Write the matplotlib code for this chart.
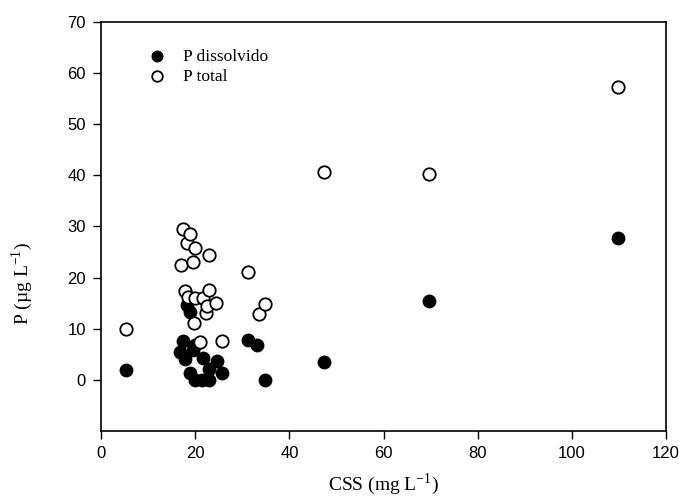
import matplotlib
matplotlib.use("Agg")
import matplotlib.pyplot as plt

# CSS (mg/L) vs dissolved phosphorus (ug/L)
css_dissolvido = [5.2, 17.35, 16.8, 17.8, 18.2, 18.9, 18.8, 19.6, 20.0, 19.9,
                  21.4, 21.6, 22.8, 23.0, 24.6, 25.7, 31.1, 33.2, 34.8, 47.4,
                  69.7, 109.8]
p_dissolvido = [1.9, 7.6, 5.5, 4.0, 14.7, 13.2, 1.4, 5.9, 6.8, 0.0,
                0.0, 4.2, 2.2, 0.0, 3.7, 1.3, 7.8, 6.8, 0.0, 3.4,
                15.4, 27.7]

# CSS (mg/L) vs total phosphorus (ug/L)
css_total = [5.2, 16.9, 17.35, 17.8, 18.3, 18.4, 18.9, 19.6, 19.8, 19.9,
             20.0, 21.0, 21.6, 22.3, 22.5, 22.8, 22.9, 24.4, 25.7, 31.1,
             33.5, 34.8, 47.4, 69.7, 109.8]
p_total = [10.0, 22.5, 29.4, 17.4, 26.7, 16.1, 28.5, 23.0, 11.1, 25.7,
           15.9, 7.4, 15.9, 13.1, 14.5, 17.5, 24.5, 15.1, 7.6, 21.1,
           12.9, 14.8, 40.7, 40.3, 57.3]

x_ticks = [0, 20, 40, 60, 80, 100, 120]
y_ticks = [0, 10, 20, 30, 40, 50, 60, 70]

fig = plt.figure(figsize=(6.79, 4.97), dpi=100)
ax = fig.add_axes([0.149, 0.133, 0.832, 0.823])

ax.scatter(css_dissolvido, p_dissolvido, s=80, color="black",
           edgecolors="black", linewidths=1.0, label="P dissolvido", zorder=3)
ax.scatter(css_total, p_total, s=80, facecolors="white",
           edgecolors="black", linewidths=1.3, label="P total", zorder=4)

ax.set_xlim(0, 120)
ax.set_ylim(-10, 70)
ax.set_xticks(x_ticks)
ax.set_yticks(y_ticks)
ax.tick_params(direction="out", length=6, width=1.0, pad=5,
               labelsize=12, top=False, right=False)
for lbl in ax.get_xticklabels() + ax.get_yticklabels():
    lbl.set_family("Liberation Sans")
for sp in ax.spines.values():
    sp.set_linewidth(1.2)

serif = "Liberation Serif"
ax.set_xlabel("CSS (mg L$^{\\mathregular{-1}}$)", fontsize=14,
              family=serif, labelpad=7)
ax.set_ylabel("P (\u00b5g L$^{\\mathregular{-1}}$)", fontsize=14,
              family=serif)
ax.yaxis.set_label_coords(-0.117, 0.36)

ax.legend(loc="upper left", bbox_to_anchor=(0.055, 0.952), frameon=False,
          prop={"family": serif, "size": 12.5}, handletextpad=0.5,
          labelspacing=0.22, borderaxespad=0, scatterpoints=1,
          markerscale=0.85)

fig.savefig("out.png", dpi=100)
